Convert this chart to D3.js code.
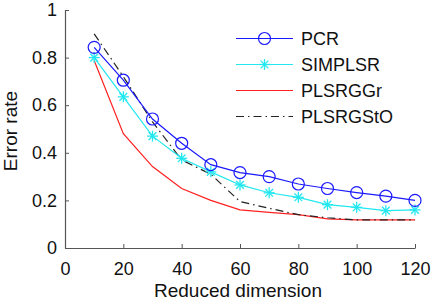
<!DOCTYPE html>
<html><head><meta charset="utf-8">
<script src="https://cdn.jsdelivr.net/npm/d3@7"></script>
<style>body{margin:0;background:#fff}svg{display:block}text{font-family:"Liberation Sans",Arial,sans-serif}</style>
</head><body><svg id="c" width="436" height="300"></svg>
<script>
const dims = [10,20,30,40,50,60,70,80,90,100,110,120];
const pcr = [0.843,0.705,0.542,0.440,0.350,0.317,0.300,0.269,0.250,0.233,0.218,0.200];
const simplsr = [0.800,0.635,0.470,0.377,0.320,0.265,0.232,0.213,0.182,0.171,0.157,0.160];
const plsrggr = [0.788,0.480,0.342,0.250,0.200,0.160,0.150,0.140,0.122,0.118,0.118,0.118];
const plsrgsto = [0.900,0.720,0.530,0.370,0.310,0.195,0.167,0.140,0.127,0.118,0.118,0.118];
const xTicks = [0,20,40,60,80,100,120];
const yTicks = [0,0.2,0.4,0.6,0.8,1];
const seriesNames = ["PCR","SIMPLSR","PLSRGGr","PLSRGStO"];

const svg = d3.select("#c");
const x = d3.scaleLinear().domain([0,120]).range([65,415]);
const y = d3.scaleLinear().domain([0,1]).range([248,10]);
const axCol = "#555";

const xa = svg.append("g").attr("transform","translate(0,248)")
  .call(d3.axisBottom(x).tickValues(xTicks).tickSizeInner(-4).tickSizeOuter(0).tickPadding(14).tickFormat(d3.format("d")));
const ya = svg.append("g").attr("transform","translate(65,0)")
  .call(d3.axisLeft(y).tickValues(yTicks).tickSizeInner(-4).tickSizeOuter(0).tickPadding(8).tickFormat(d=>d===0?"0":d===1?"1":d3.format(".1f")(d)));
[xa,ya].forEach(a=>{
  a.select(".domain").attr("stroke",axCol).attr("stroke-width",1.2);
  a.selectAll(".tick line").attr("stroke",axCol);
  a.selectAll("text").attr("font-size",18).attr("fill","#111").style("font-family",'"Liberation Sans",Arial,sans-serif');
});

svg.append("text").attr("x",238).attr("y",297).attr("text-anchor","middle").attr("font-size",19).attr("fill","#111").text("Reduced dimension");
svg.append("text").attr("transform","translate(17,131) rotate(-90)").attr("text-anchor","middle").attr("font-size",19).attr("fill","#111").text("Error rate");

const line = d3.line().x((d,i)=>x(dims[i])).y(d=>y(d));
const styles = [
  {data:pcr,color:"#1a1aff",dash:null,marker:"circle"},
  {data:simplsr,color:"#22e8f0",dash:null,marker:"star"},
  {data:plsrggr,color:"#ff2020",dash:null,marker:null},
  {data:plsrgsto,color:"#222",dash:"8,4,1.5,4",marker:null}
];
function drawMarker(g,type,cx,cy,color){
  if(type==="circle"){
    g.append("circle").attr("cx",cx).attr("cy",cy).attr("r",6).attr("fill","none").attr("stroke",color).attr("stroke-width",1.2);
  } else if(type==="star"){
    const s=5.5;
    [[-s,0,s,0],[0,-s,0,s],[-s*0.7,-s*0.7,s*0.7,s*0.7],[-s*0.7,s*0.7,s*0.7,-s*0.7]].forEach(l=>{
      g.append("line").attr("x1",cx+l[0]).attr("y1",cy+l[1]).attr("x2",cx+l[2]).attr("y2",cy+l[3]).attr("stroke",color).attr("stroke-width",1.3);
    });
  }
}
[2,3,1,0].forEach(k=>{
  const s=styles[k];
  const g=svg.append("g");
  g.append("path").attr("d",line(s.data)).attr("fill","none").attr("stroke",s.color).attr("stroke-width",1.2).attr("stroke-dasharray",s.dash);
  if(s.marker) s.data.forEach((v,i)=>drawMarker(g,s.marker,x(dims[i]),y(v),s.color));
});

const lg = svg.append("g");
const rows=[38.5,64.5,90.5,116.5];
seriesNames.forEach((n,k)=>{
  const s=styles[k], yy=rows[k];
  lg.append("line").attr("x1",236).attr("x2",293).attr("y1",yy).attr("y2",yy).attr("stroke",s.color).attr("stroke-width",1.2).attr("stroke-dasharray",s.dash);
  if(s.marker) drawMarker(lg,s.marker,264.5,yy,s.color);
  lg.append("text").attr("x",301).attr("y",yy+6.5).attr("font-size",18).attr("fill","#111").text(n);
});
</script></body></html>
